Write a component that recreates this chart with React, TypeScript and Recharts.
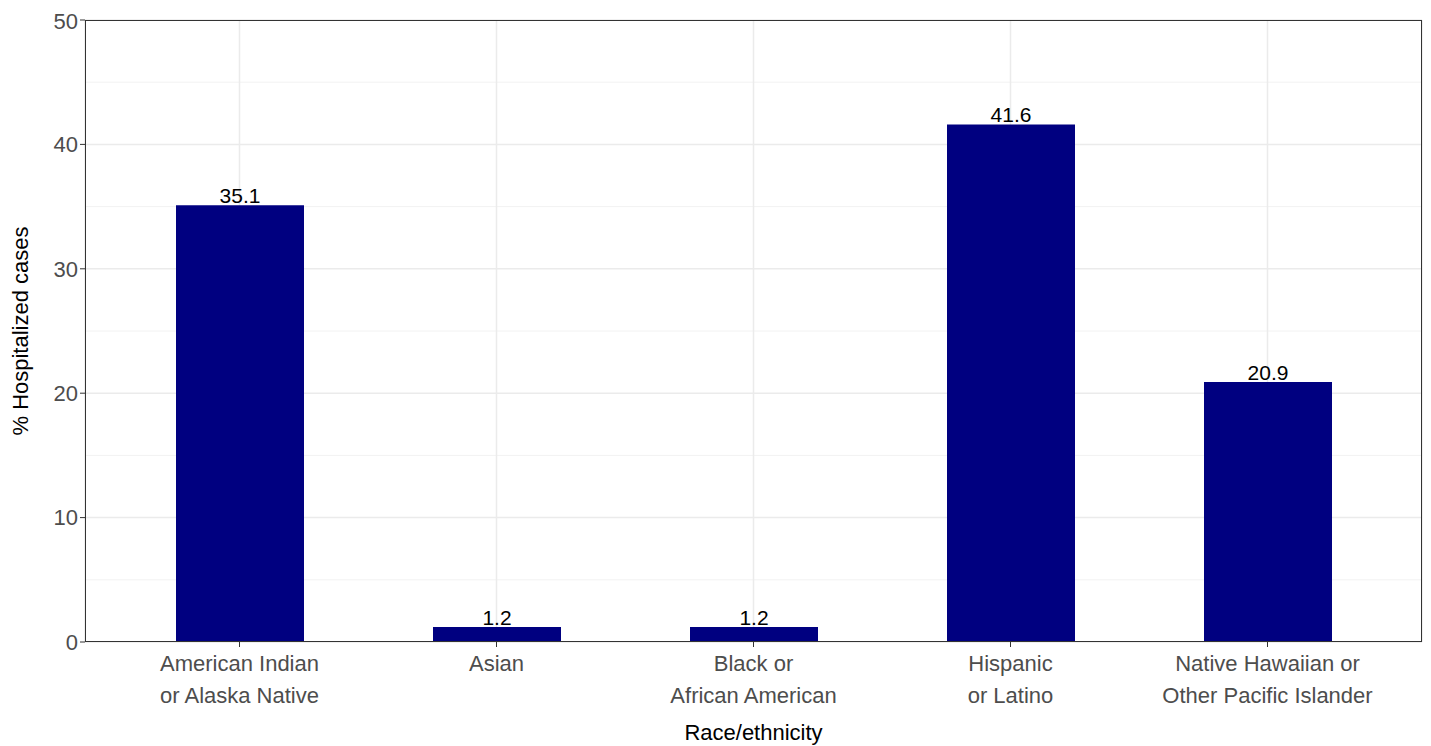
import React from "react";
import { BarChart, Bar, XAxis, YAxis, CartesianGrid, LabelList } from "recharts";

const categories = ["American Indian\nor Alaska Native", "Asian", "Black or\nAfrican American", "Hispanic\nor Latino", "Native Hawaiian or\nOther Pacific Islander"];
const values = [35.1, 1.2, 1.2, 41.6, 20.9];
const yTicks = [0, 10, 20, 30, 40, 50];
const minorTicks = [5, 15, 25, 35, 45];

const data = categories.map((c, i) => ({ name: c, value: values[i] }));

const XTick = (props: any) => {
  const { x, y, payload } = props;
  const lines = String(payload.value).split("\n");
  return (
    <g>
      {lines.map((l, i) => (
        <text key={i} x={x} y={y + 22 + i * 32} textAnchor="middle" fill="#4d4d4d" fontSize={22} fontFamily="Liberation Sans, Arial, sans-serif">{l}</text>
      ))}
    </g>
  );
};

export default function App() {
  return (
    <div style={{ position: "relative", width: 1423, height: 738, fontFamily: "Liberation Sans, Arial, sans-serif" }}>
      <BarChart width={1423} height={738} data={data} margin={{ top: 12, right: 9, left: 0, bottom: 0 }} barCategoryGap={0}>
        <CartesianGrid stroke="#f2f2f2" strokeWidth={1} vertical={false} horizontalValues={minorTicks} />
        <CartesianGrid stroke="#ebebeb" strokeWidth={1.5} />
        <XAxis dataKey="name" tick={<XTick />} interval={0} height={104} tickLine={{ stroke: "#333" }} axisLine={false} tickSize={5}
          padding={{ left: 26, right: 26 }}
          label={{ value: "Race/ethnicity", position: "insideBottom", offset: 0, fill: "#000", fontSize: 22, dy: -6 }} />
        <YAxis domain={[0, 50]} ticks={yTicks} width={77} tick={{ fill: "#4d4d4d", fontSize: 22 }} tickLine={{ stroke: "#333" }} axisLine={false} tickSize={5}
          label={{ value: "% Hospitalized cases", angle: -90, position: "insideLeft", offset: 12, fill: "#000", fontSize: 22, style: { textAnchor: "middle" } }} />
        <Bar dataKey="value" fill="#000080" barSize={128} isAnimationActive={false}>
          <LabelList dataKey="value" position="top" offset={2} fill="#000" fontSize={21} formatter={(v: any) => Number(v).toFixed(1)} />
        </Bar>
      </BarChart>
      <div style={{ position: "absolute", left: 77, top: 12, width: 1337, height: 622, border: "1px solid #333", boxSizing: "border-box", pointerEvents: "none" }} />
    </div>
  );
}
